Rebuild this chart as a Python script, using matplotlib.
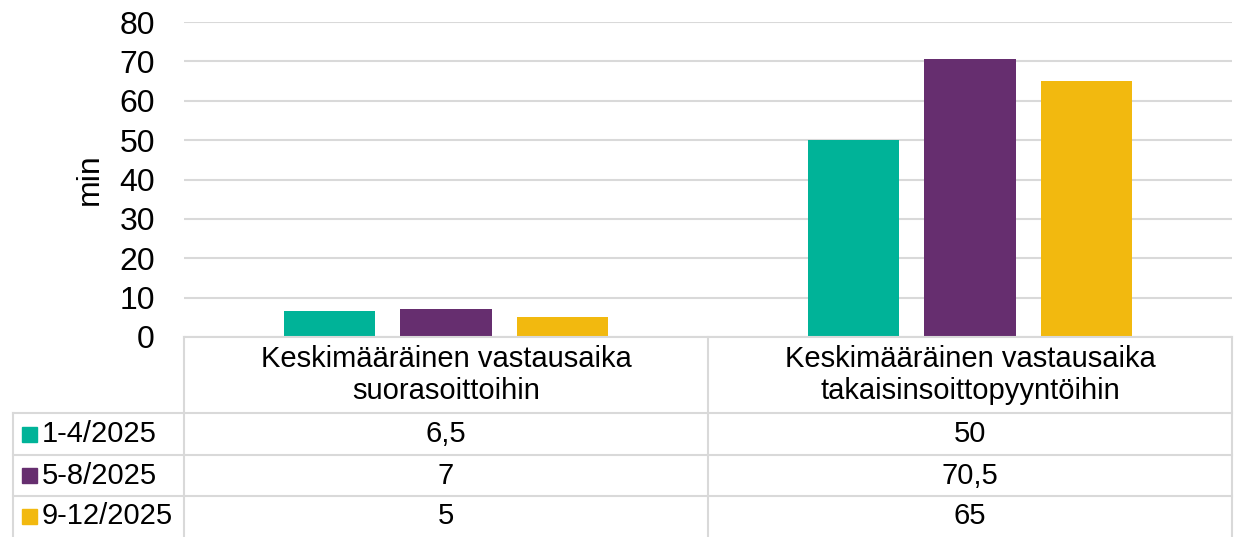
import matplotlib.pyplot as plt
from matplotlib.lines import Line2D
from matplotlib.patches import Rectangle

plt.rcParams['font.family'] = ['Liberation Sans', 'DejaVu Sans']

categories = ["Keskimääräinen vastausaika\nsuorasoittoihin",
              "Keskimääräinen vastausaika\ntakaisinsoittopyyntöihin"]
periods = ["1-4/2025", "5-8/2025", "9-12/2025"]
values = [[6.5, 50], [7, 70.5], [5, 65]]
colors = ["#00B398", "#662E6F", "#F2B90F"]

W, H = 1245, 537
fig = plt.figure(figsize=(W / 100, H / 100), dpi=100)


def fx(x):
    return x / W


def fy(y):
    return 1 - y / H


# plot area in pixels
left, right, top, bottom = 184, 1232, 22, 337
ax = fig.add_axes([fx(left), fy(bottom), fx(right - left), (bottom - top) / H])

bw = 0.174
offs = [-0.223, 0, 0.223]
for i, (p, c) in enumerate(zip(periods, colors)):
    ax.bar([k + offs[i] for k in range(len(categories))], values[i], width=bw,
           color=c, zorder=3)

ax.set_xlim(-0.5, 1.5)
ax.set_ylim(0, 80)
ax.set_yticks(range(0, 81, 10))
ax.set_xticks([])
ax.tick_params(axis='y', length=0, pad=21, labelsize=23)
ax.grid(axis='y', color='#D9D9D9', lw=1.5, zorder=0)
for s in ax.spines.values():
    s.set_visible(False)
ax.set_ylabel("min", fontsize=23, labelpad=10)

# data table
lc = '#D9D9D9'
lw = 1.5
col_div = 708
rows = [337, 413, 455, 496, 537]


def hline(y, x0, x1):
    fig.add_artist(Line2D([fx(x0), fx(x1)], [fy(y), fy(y)], color=lc, lw=lw))


def vline(x, y0, y1):
    fig.add_artist(Line2D([fx(x), fx(x)], [fy(y0), fy(y1)], color=lc, lw=lw))


hline(337, left, right)
for y in rows[1:4]:
    hline(y, 13, right)
vline(left, 337, 537)
vline(col_div, 337, 537)
vline(right, 337, 537)
vline(13, 413, 537)

centers = [(left + col_div) / 2, (col_div + right) / 2]
for k, cat in enumerate(categories):
    fig.text(fx(centers[k]), fy(375), cat, ha='center', va='center',
             fontsize=21, linespacing=1.2)

for i, p in enumerate(periods):
    yc = (rows[i + 1] + rows[i + 2]) / 2
    fig.add_artist(Rectangle((fx(22), fy(yc + 7.5)), fx(15), 15 / H,
                             color=colors[i], transform=fig.transFigure))
    fig.text(fx(42), fy(yc), p, ha='left', va='center', fontsize=21)
    for k in range(len(categories)):
        fig.text(fx(centers[k]), fy(yc), f"{values[i][k]:g}".replace('.', ','),
                 ha='center', va='center', fontsize=21)

fig.savefig("out.png", dpi=100)
